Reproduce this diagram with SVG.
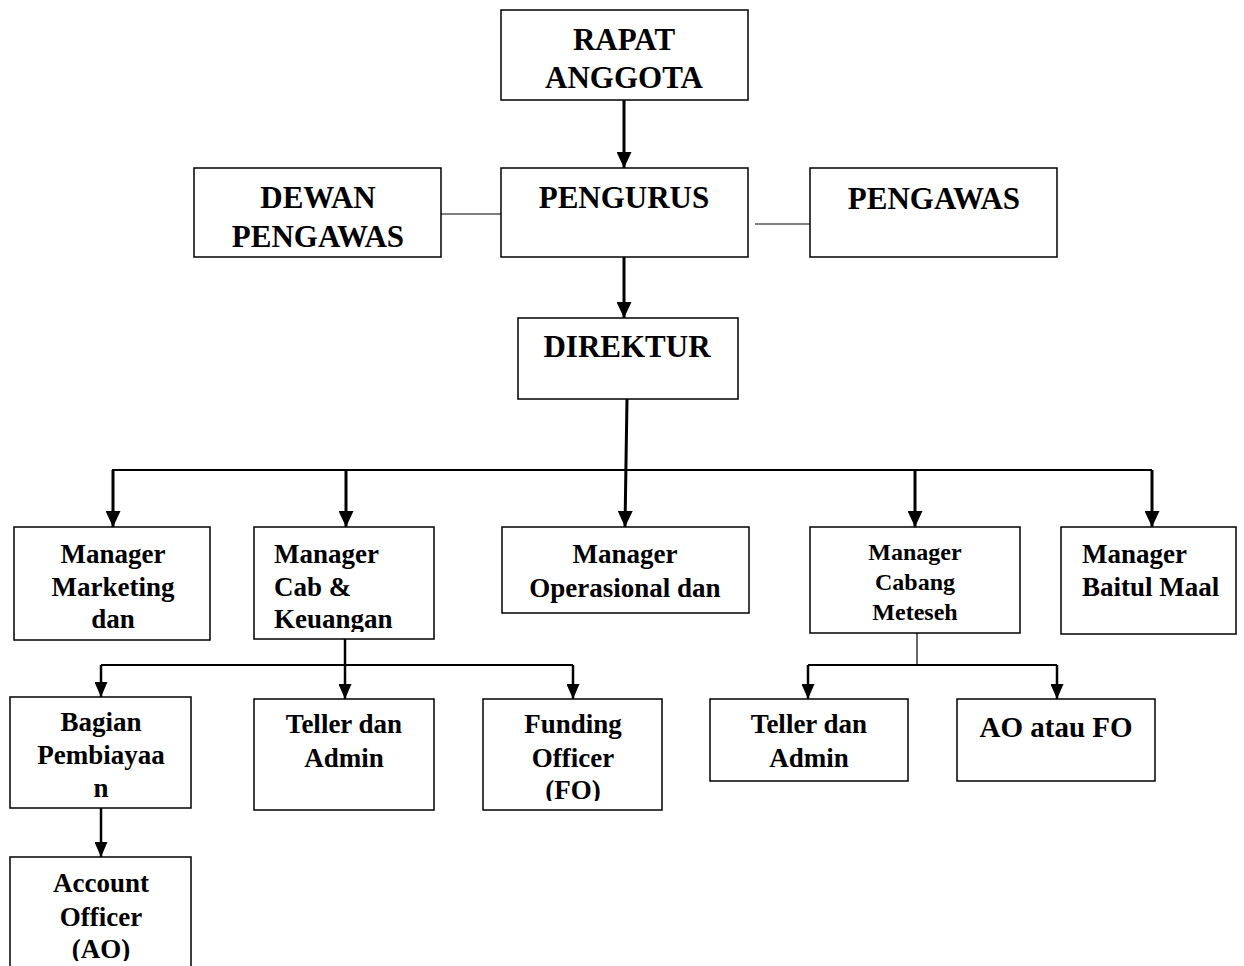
<svg xmlns="http://www.w3.org/2000/svg" width="1244" height="966" viewBox="0 0 1244 966">
<style>
.box{fill:#fff;stroke:#000;stroke-width:1.5}
.t{font-family:"Liberation Serif","Times New Roman",serif;font-weight:bold;fill:#000}
.big{font-size:31px;text-anchor:middle}
.mid{font-size:27px;text-anchor:middle}
.midl{font-size:27px;text-anchor:start}
.sm{font-size:24px;text-anchor:middle}
.ao{font-size:29px;text-anchor:middle}
.thin{stroke:#000;stroke-width:1.2;fill:none}
.bar{stroke:#000;stroke-width:2;fill:none}
.arr{stroke:#000;stroke-width:3;fill:none;marker-end:url(#ah)}
.arr2{stroke:#000;stroke-width:2.5;fill:none;marker-end:url(#ah2)}
</style>
<defs>
<marker id="ah" markerUnits="userSpaceOnUse" viewBox="0 0 16 15" refX="16" refY="7.5" markerWidth="16" markerHeight="15" orient="auto">
<path d="M0,0 L16,7.5 L0,15 z" fill="#000"/>
</marker>
<marker id="ah2" markerUnits="userSpaceOnUse" viewBox="0 0 15 13" refX="15" refY="6.5" markerWidth="15" markerHeight="13" orient="auto">
<path d="M0,0 L15,6.5 L0,13 z" fill="#000"/>
</marker>
<clipPath id="cKeu"><rect x="254" y="527" width="180" height="105"/></clipPath>
<clipPath id="cFO"><rect x="483" y="699" width="179" height="102"/></clipPath>
<clipPath id="cAO"><rect x="10" y="857" width="181" height="104"/></clipPath>
</defs>
<rect width="1244" height="966" fill="#fff"/>

<g id="connectors">
<line class="arr" x1="624" y1="100" x2="624" y2="168"/>
<line class="arr" x1="624" y1="257" x2="624" y2="318"/>
<line class="thin" x1="441" y1="214" x2="501" y2="214"/>
<line class="thin" x1="755" y1="224" x2="810" y2="224"/>
<line class="arr" x1="627" y1="399" x2="625" y2="527"/>
<polyline class="bar" points="113,527 113,470 1152,470"/>
<line class="arr" x1="113" y1="470" x2="113" y2="527"/>
<line class="arr" x1="346" y1="470" x2="346" y2="527"/>
<line class="arr" x1="915" y1="470" x2="915" y2="527"/>
<line class="arr" x1="1152" y1="470" x2="1152" y2="527"/>
<line class="bar" x1="101" y1="665" x2="573" y2="665"/>
<line class="arr2" x1="345" y1="639" x2="345" y2="699"/>
<line class="arr2" x1="101" y1="665" x2="101" y2="697"/>
<line class="arr2" x1="573" y1="665" x2="573" y2="699"/>
<line class="arr2" x1="101" y1="808" x2="101" y2="857"/>
<line class="thin" x1="917" y1="633" x2="917" y2="665"/>
<line class="bar" x1="808" y1="665" x2="1057" y2="665"/>
<line class="arr2" x1="808" y1="665" x2="808" y2="699"/>
<line class="arr2" x1="1057" y1="665" x2="1057" y2="699"/>
</g>

<g id="rapat">
<rect class="box" x="501" y="10" width="247" height="90"/>
<text class="t big" x="624" y="50">RAPAT</text>
<text class="t big" x="624" y="88">ANGGOTA</text>
</g>
<g id="dewan">
<rect class="box" x="194" y="168" width="247" height="89"/>
<text class="t big" x="318" y="208">DEWAN</text>
<text class="t big" x="318" y="247">PENGAWAS</text>
</g>
<g id="pengurus">
<rect class="box" x="501" y="168" width="247" height="89"/>
<text class="t big" x="624" y="208">PENGURUS</text>
</g>
<g id="pengawas">
<rect class="box" x="810" y="168" width="247" height="89"/>
<text class="t big" x="934" y="209">PENGAWAS</text>
</g>
<g id="direktur">
<rect class="box" x="518" y="318" width="220" height="81"/>
<text class="t big" x="627" y="357">DIREKTUR</text>
</g>

<g id="mgr-marketing">
<rect class="box" x="14" y="527" width="196" height="113"/>
<text class="t mid" x="113" y="563">Manager</text>
<text class="t mid" x="113" y="596">Marketing</text>
<text class="t mid" x="113" y="628">dan</text>
</g>
<g id="mgr-cab">
<rect class="box" x="254" y="527" width="180" height="112"/>
<g clip-path="url(#cKeu)">
<text class="t midl" x="274" y="563">Manager</text>
<text class="t midl" x="274" y="596">Cab &amp;</text>
<text class="t midl" x="274" y="628">Keuangan</text>
</g>
</g>
<g id="mgr-operasional">
<rect class="box" x="502" y="527" width="247" height="86"/>
<text class="t mid" x="625" y="563">Manager</text>
<text class="t mid" x="625" y="597">Operasional dan</text>
</g>
<g id="mgr-meteseh">
<rect class="box" x="810" y="527" width="210" height="106"/>
<text class="t sm" x="915" y="560">Manager</text>
<text class="t sm" x="915" y="590">Cabang</text>
<text class="t sm" x="915" y="620">Meteseh</text>
</g>
<g id="mgr-baitul">
<rect class="box" x="1061" y="527" width="175" height="107"/>
<text class="t midl" x="1082" y="563">Manager</text>
<text class="t midl" x="1082" y="596">Baitul Maal</text>
</g>

<g id="bagian">
<rect class="box" x="10" y="697" width="181" height="111"/>
<text class="t mid" x="101" y="731">Bagian</text>
<text class="t mid" x="101" y="764">Pembiayaa</text>
<text class="t mid" x="101" y="797">n</text>
</g>
<g id="teller1">
<rect class="box" x="254" y="699" width="180" height="111"/>
<text class="t mid" x="344" y="733">Teller dan</text>
<text class="t mid" x="344" y="767">Admin</text>
</g>
<g id="funding">
<rect class="box" x="483" y="699" width="179" height="111"/>
<g clip-path="url(#cFO)">
<text class="t mid" x="573" y="733">Funding</text>
<text class="t mid" x="573" y="767">Officer</text>
<text class="t mid" x="573" y="799">(FO)</text>
</g>
</g>
<g id="account">
<rect class="box" x="10" y="857" width="181" height="112"/>
<g clip-path="url(#cAO)">
<text class="t mid" x="101" y="892">Account</text>
<text class="t mid" x="101" y="926">Officer</text>
<text class="t mid" x="101" y="958">(AO)</text>
</g>
</g>
<g id="teller2">
<rect class="box" x="710" y="699" width="198" height="82"/>
<text class="t mid" x="809" y="733">Teller dan</text>
<text class="t mid" x="809" y="767">Admin</text>
</g>
<g id="aofo">
<rect class="box" x="957" y="699" width="198" height="82"/>
<text class="t ao" x="1056" y="737">AO atau FO</text>
</g>
</svg>
